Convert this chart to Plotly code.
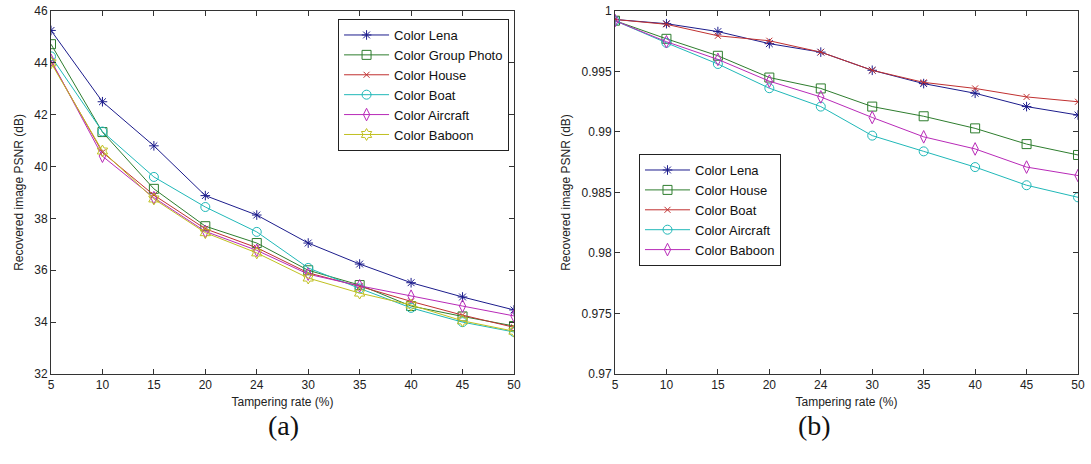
import plotly.graph_objects as go

rates = ["5", "10", "15", "20", "24", "30", "35", "40", "45", "50"]

# (a) PSNR
a_lena = [45.25, 42.5, 40.8, 38.88, 38.13, 37.05, 36.24, 35.52, 34.97, 34.47]
a_group = [44.72, 41.33, 39.14, 37.7, 37.05, 36.0, 35.43, 34.62, 34.22, 33.85]
a_house = [44.05, 40.55, 38.9, 37.6, 36.87, 35.9, 35.38, 34.8, 34.27, 33.8]
a_boat = [44.25, 41.35, 39.6, 38.44, 37.48, 36.09, 35.3, 34.55, 34.0, 33.62]
a_aircraft = [44.1, 40.4, 38.8, 37.5, 36.77, 35.85, 35.4, 35.0, 34.62, 34.24]
a_baboon = [44.0, 40.6, 38.75, 37.45, 36.67, 35.7, 35.12, 34.66, 34.05, 33.65]

# (b)
b_lena = [0.9993, 0.99895, 0.9983, 0.9973, 0.9966, 0.9951, 0.9940, 0.9932, 0.9921, 0.9914]
b_house = [0.9992, 0.9977, 0.9963, 0.9945, 0.9936, 0.9921, 0.9913, 0.9903, 0.9890, 0.9881]
b_boat = [0.9993, 0.9989, 0.99795, 0.99754, 0.9966, 0.9951, 0.9941, 0.9936, 0.9929, 0.9925]
b_aircraft = [0.9992, 0.99737, 0.99562, 0.99362, 0.9921, 0.9897, 0.9884, 0.9871, 0.9856, 0.9846]
b_baboon = [0.9992, 0.99746, 0.9960, 0.9942, 0.9929, 0.9912, 0.9896, 0.9886, 0.9871, 0.9864]

C_BLUE = "#1c1c8c"
C_GREEN = "#2e7d2e"
C_RED = "#c03030"
C_CYAN = "#20b8b8"
C_MAG = "#b82ab8"
C_YEL = "#c0c020"

idx = list(range(len(rates)))
fig = go.Figure()

def add(name, ys, color, symbol, xa, ya, legend, size=8):
    fig.add_trace(go.Scatter(
        x=idx, y=ys, name=name, mode="lines+markers",
        line=dict(color=color, width=1),
        marker=dict(symbol=symbol, size=size, color=color,
                    line=dict(color=color, width=1)),
        xaxis=xa, yaxis=ya, legend=legend))

add("Color Lena", a_lena, C_BLUE, "asterisk-open", "x", "y", "legend")
add("Color Group Photo", a_group, C_GREEN, "square-open", "x", "y", "legend", 9)
add("Color House", a_house, C_RED, "x-thin-open", "x", "y", "legend", 6)
add("Color Boat", a_boat, C_CYAN, "circle-open", "x", "y", "legend", 9)
add("Color Aircraft", a_aircraft, C_MAG, "diamond-tall-open", "x", "y", "legend", 9)
add("Color Baboon", a_baboon, C_YEL, "hexagram-open", "x", "y", "legend", 9)

add("Color Lena", b_lena, C_BLUE, "asterisk-open", "x2", "y2", "legend2")
add("Color House", b_house, C_GREEN, "square-open", "x2", "y2", "legend2", 9)
add("Color Boat", b_boat, C_RED, "x-thin-open", "x2", "y2", "legend2", 6)
add("Color Aircraft", b_aircraft, C_CYAN, "circle-open", "x2", "y2", "legend2", 9)
add("Color Baboon", b_baboon, C_MAG, "diamond-tall-open", "x2", "y2", "legend2", 9)

FONT = "Liberation Sans, Arial, sans-serif"
axis_font = dict(family=FONT, size=12, color="#222")
common_x = dict(tickmode="array", tickvals=idx, ticktext=rates, range=[0, 9],
                showline=True, linecolor="#333", linewidth=1, mirror="ticks",
                ticks="inside", ticklen=5, tickcolor="#333", showgrid=False,
                zeroline=False, tickfont=axis_font, automargin=False,
                title=dict(text="Tampering rate (%)", font=axis_font, standoff=6))
common_y = dict(showline=True, linecolor="#333", linewidth=1, mirror="ticks",
                ticks="inside", ticklen=5, tickcolor="#333", showgrid=False,
                zeroline=False, tickfont=axis_font, automargin=False,
                title=dict(text="Recovered image PSNR (dB)", font=axis_font, standoff=8))

legend_font = dict(family=FONT, size=13, color="#111")
cap_font = dict(family="Liberation Serif, DejaVu Serif, serif", size=28, color="#111")

fig.update_layout(
    width=1091, height=464,
    margin=dict(l=0, r=0, t=0, b=0),
    paper_bgcolor="white", plot_bgcolor="white",
    showlegend=True,
    xaxis=dict(domain=[0.04675, 0.4711], anchor="y", **common_x),
    yaxis=dict(domain=[0.194, 0.9763], anchor="x", range=[32, 46],
               tickvals=[32, 34, 36, 38, 40, 42, 44, 46], **common_y),
    xaxis2=dict(domain=[0.5637, 0.9881], anchor="y2", **common_x),
    yaxis2=dict(domain=[0.194, 0.9763], anchor="x2", range=[0.97, 1.0],
                tickvals=[0.97, 0.975, 0.98, 0.985, 0.99, 0.995, 1.0],
                ticktext=["0.97", "0.975", "0.98", "0.985", "0.99", "0.995", "1"],
                **common_y),
    legend=dict(x=0.4666, y=0.959, xanchor="right", yanchor="top",
                bgcolor="white", bordercolor="#222", borderwidth=1,
                font=legend_font, tracegroupgap=0, itemwidth=45),
    legend2=dict(x=0.5857, y=0.668, xanchor="left", yanchor="top",
                 bgcolor="white", bordercolor="#222", borderwidth=1,
                 font=legend_font, tracegroupgap=0, itemwidth=45),
    annotations=[
        dict(text="(a)", x=266 / 1091, y=1 - 443 / 464, xref="paper", yref="paper",
             showarrow=False, font=cap_font),
        dict(text="(b)", x=833 / 1091, y=1 - 443 / 464, xref="paper", yref="paper",
             showarrow=False, font=cap_font),
    ],
)

fig.write_html("out.html", config={"displayModeBar": False},
               post_script="document.body.style.margin='0';document.body.style.padding='0';")
